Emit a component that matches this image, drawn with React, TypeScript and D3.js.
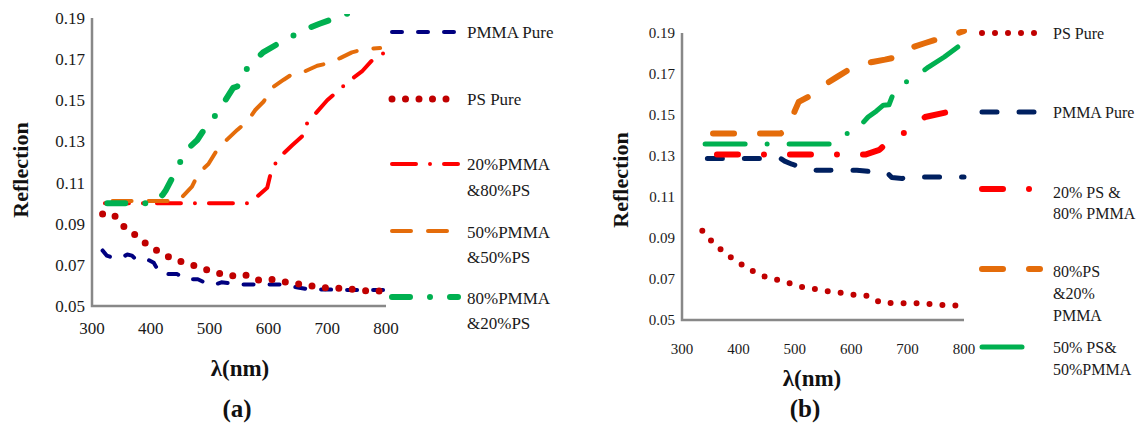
import React from 'react';
import * as d3 from 'd3';

type P = [number, number];

const xTicks = [300, 400, 500, 600, 700, 800];
const yTicks = [0.05, 0.07, 0.09, 0.11, 0.13, 0.15, 0.17, 0.19];

// ---------- panel (a) ----------
const aPmmaPure: P[] = [
  [318, 0.077], [325, 0.0745], [335, 0.0735], [350, 0.0735], [360, 0.075], [368, 0.0745],
  [375, 0.0725], [395, 0.0725], [405, 0.071], [415, 0.066], [430, 0.0655], [445, 0.0655],
  [460, 0.063], [480, 0.063], [495, 0.061], [510, 0.0605], [520, 0.0615], [535, 0.061],
  [545, 0.0605], [560, 0.0605], [580, 0.0605], [600, 0.0605], [620, 0.0605], [640, 0.0595],
  [650, 0.059], [670, 0.058], [700, 0.058], [740, 0.0578], [795, 0.0578],
];
const aPsPure: P[] = [
  [318, 0.0947], [336, 0.0947], [354, 0.0887], [375, 0.0842], [396, 0.0793], [418, 0.0757],
  [440, 0.0725], [465, 0.0705], [486, 0.0684], [511, 0.0663], [535, 0.0645], [559, 0.0653],
  [581, 0.0626], [606, 0.0629], [630, 0.0616], [655, 0.0606], [680, 0.0595], [706, 0.0585],
  [731, 0.0587], [755, 0.0575], [781, 0.0574], [800, 0.057],
];
const a20Pmma: P[] = [
  [322, 0.1], [560, 0.1], [568, 0.1], [580, 0.103], [598, 0.1075], [606, 0.117], [623, 0.1234],
  [640, 0.128], [657, 0.1324], [666, 0.139], [683, 0.1445], [700, 0.15], [720, 0.155],
  [738, 0.1596], [759, 0.164], [775, 0.169], [793, 0.172], [798, 0.174],
];
const a50Pmma: P[] = [
  [335, 0.101], [440, 0.101], [450, 0.102], [470, 0.108], [481, 0.1145], [498, 0.119],
  [513, 0.126], [530, 0.131], [547, 0.1356], [564, 0.1397], [578, 0.1454], [592, 0.1494],
  [606, 0.156], [626, 0.16], [643, 0.1632], [660, 0.1638], [683, 0.1668], [702, 0.168],
  [722, 0.1705], [742, 0.1733], [765, 0.175], [790, 0.1754],
];
const a80Pmma: P[] = [
  [326, 0.1], [395, 0.1], [405, 0.1], [420, 0.104], [425, 0.106], [442, 0.1153], [459, 0.1254],
  [479, 0.1307], [490, 0.1355], [501, 0.1389], [523, 0.1483], [540, 0.156], [547, 0.1567],
  [556, 0.161], [564, 0.1657], [591, 0.1733], [623, 0.1786], [640, 0.181], [654, 0.1835],
  [687, 0.1872], [720, 0.1905], [760, 0.195], [800, 0.2],
];

// ---------- panel (b) ----------
const bPsPure: P[] = [
  [336, 0.0935], [354, 0.088], [374, 0.0831], [394, 0.0791], [416, 0.0753], [439, 0.0718],
  [462, 0.0701], [486, 0.0683], [510, 0.0662], [535, 0.0651], [557, 0.0641], [582, 0.0633],
  [607, 0.0622], [631, 0.0617], [653, 0.0583], [679, 0.0583], [703, 0.058], [728, 0.0583],
  [752, 0.0573], [777, 0.0573], [800, 0.0565],
];
const bPmmaPure: P[] = [
  [345, 0.1288], [460, 0.1288], [475, 0.1288], [482, 0.1275], [495, 0.126], [510, 0.1247],
  [530, 0.123], [570, 0.1231], [610, 0.1231], [630, 0.1225], [640, 0.1215], [665, 0.1215],
  [672, 0.1195], [690, 0.119], [700, 0.1198], [800, 0.1198],
];
const b20Ps: P[] = [
  [362, 0.1307], [600, 0.1307], [625, 0.1307], [650, 0.133], [656, 0.1345], [670, 0.137],
  [692, 0.141], [731, 0.149], [772, 0.1515], [785, 0.153], [800, 0.1572],
];
const b80Ps: P[] = [
  [355, 0.141], [460, 0.141], [475, 0.141], [485, 0.143], [492, 0.1466], [500, 0.152],
  [507, 0.1564], [525, 0.159], [542, 0.162], [560, 0.166], [575, 0.1686], [595, 0.172],
  [610, 0.1743], [640, 0.176], [660, 0.177], [681, 0.1783], [700, 0.181], [710, 0.1832],
  [730, 0.185], [746, 0.1864], [770, 0.188], [787, 0.1897], [800, 0.191],
];
const b50Ps: P[] = [
  [341, 0.1358], [565, 0.1358], [580, 0.1375], [591, 0.141], [605, 0.141], [615, 0.1445],
  [630, 0.149], [645, 0.152], [657, 0.1548], [667, 0.155], [678, 0.1629], [700, 0.1665],
  [720, 0.17], [737, 0.1734], [765, 0.1783], [793, 0.184], [800, 0.1856],
];

const aLabels = [['PMMA Pure'], ['PS Pure'], ['20%PMMA', '&80%PS'], ['50%PMMA', '&50%PS'], ['80%PMMA', '&20%PS']];
const bLabels = [['PS Pure'], ['PMMA Pure'], ['20% PS &', '80% PMMA'], ['80%PS', '&20%', 'PMMA'], ['50% PS&', '50%PMMA']];

interface Series { data: P[]; color: string; width: number; dash: string; }
interface LegendItem { lineY: number; textY: number[]; }

interface PanelProps {
  id: string;
  x0: number; x1: number; y0: number; y1: number;
  tickFont: number;
  series: Series[];
  labels: string[][];
  legend: LegendItem[];
  legX1: number; legX2: number; legText: number; legFont: number;
  yTitleX: number; yTitleY: number;
  xTitleX: number; xTitleY: number;
  capX: number; capText: string; xTickY: number;
}

const FONT = 'Liberation Serif, DejaVu Serif, Noto Serif, Times New Roman, serif';

function Panel(p: PanelProps) {
  const x = d3.scaleLinear().domain([300, 800]).range([p.x0, p.x1]);
  const y = d3.scaleLinear().domain([0.05, 0.19]).range([p.y1, p.y0]);
  const line = d3.line<P>().x(d => x(d[0])).y(d => y(d[1]));
  const ts = { fontFamily: FONT };
  return (
    <g style={ts}>
      <defs>
        <clipPath id={`clip-${p.id}`}>
          <rect x={p.x0 - 4} y={p.y0 - 4} width={p.x1 - p.x0 + 8} height={p.y1 - p.y0 + 4} />
        </clipPath>
      </defs>
      {yTicks.map(t => (
        <text key={t} x={p.x0 - 7} y={y(t)} dy="0.35em" textAnchor="end" fontSize={p.tickFont} fill="#1a1a1a" style={ts}>
          {t.toFixed(2)}
        </text>
      ))}
      {xTicks.map(t => (
        <text key={t} x={x(t)} y={p.xTickY} dy="0.35em" textAnchor="middle" fontSize={p.tickFont} fill="#1a1a1a" style={ts}>
          {t}
        </text>
      ))}
      <g clipPath={`url(#clip-${p.id})`}>
        {p.series.map((s, i) => (
          <path key={i} d={line(s.data) || ''} fill="none" stroke={s.color} strokeWidth={s.width}
            strokeDasharray={s.dash} strokeLinecap="round" strokeLinejoin="round" />
        ))}
      </g>
      <path d={`M${p.x0},${p.y0}V${p.y1}H${p.x1}`} fill="none" stroke="#888" strokeWidth={2.5} />
      {p.series.map((s, i) => (
        <g key={i}>
          <line x1={p.legX1} x2={p.legX2} y1={p.legend[i].lineY} y2={p.legend[i].lineY} stroke={s.color}
            strokeWidth={s.width} strokeDasharray={s.dash} strokeLinecap="round" />
          {p.labels[i].map((l, j) => (
            <text key={j} x={p.legText} y={p.legend[i].textY[j]} dy="0.35em" fontSize={p.legFont} fill="#1a1a1a" style={ts}>
              {l}
            </text>
          ))}
        </g>
      ))}
      <text transform={`translate(${p.yTitleX},${p.yTitleY}) rotate(-90)`} textAnchor="middle" dy="0.35em"
        fontSize={22} fontWeight="bold" style={ts} fill="#111">Reflection</text>
      <text x={p.xTitleX} y={p.xTitleY} textAnchor="middle" dy="0.35em" fontSize={23} fontWeight="bold" style={ts} fill="#111">λ(nm)</text>
      <text x={p.capX} y={408} textAnchor="middle" dy="0.35em" fontSize={25} fontWeight="bold" style={ts} fill="#111">{p.capText}</text>
    </g>
  );
}

export default function App() {
  const navyA = '#000080';
  const navyB = '#002060';
  const darkRed = '#C00000';
  const red = '#FF0000';
  const orange = '#E46C0A';
  const green = '#00B050';

  const aSeries: Series[] = [
    { data: aPmmaPure, color: navyA, width: 4, dash: '10 16' },
    { data: aPsPure, color: darkRed, width: 7, dash: '0 13.5' },
    { data: a20Pmma, color: red, width: 4, dash: '24 14 0 14' },
    { data: a50Pmma, color: orange, width: 4, dash: '19 17' },
    { data: a80Pmma, color: green, width: 6, dash: '18 20 0 20' },
  ];
  const bSeries: Series[] = [
    { data: bPsPure, color: darkRed, width: 6, dash: '0 13' },
    { data: bPmmaPure, color: navyB, width: 5, dash: '15 22' },
    { data: b20Ps, color: red, width: 6, dash: '21 26 0 26' },
    { data: b80Ps, color: orange, width: 6, dash: '21 26' },
    { data: b50Ps, color: green, width: 5, dash: '40 22 0 22' },
  ];

  return (
    <svg width={1142} height={425} style={{ display: 'block', position: 'absolute', left: 0, top: 0, background: '#fff' }}>
      <rect width={1142} height={425} fill="#fff" />
      <Panel id="a" x0={92} x1={386} y0={18} y1={306} tickFont={17}
        series={aSeries} labels={aLabels}
        legend={[
          { lineY: 32, textY: [32] },
          { lineY: 99, textY: [99] },
          { lineY: 164, textY: [164, 190] },
          { lineY: 231, textY: [232, 257] },
          { lineY: 297, textY: [298, 323] },
        ]}
        legX1={392} legX2={458} legText={467} legFont={17}
        yTitleX={20} yTitleY={170} xTitleX={240} xTitleY={368} capX={237} capText="(a)" xTickY={328} />
      <Panel id="b" x0={682} x1={964} y0={33} y1={320} tickFont={15}
        series={bSeries} labels={bLabels}
        legend={[
          { lineY: 33, textY: [33] },
          { lineY: 112, textY: [112] },
          { lineY: 189, textY: [192, 213] },
          { lineY: 269, textY: [271, 293, 315] },
          { lineY: 347, textY: [347, 369] },
        ]}
        legX1={982} legX2={1040} legText={1053} legFont={16}
        yTitleX={620} yTitleY={180} xTitleX={812} xTitleY={378} capX={805} capText="(b)" xTickY={349} />
    </svg>
  );
}
